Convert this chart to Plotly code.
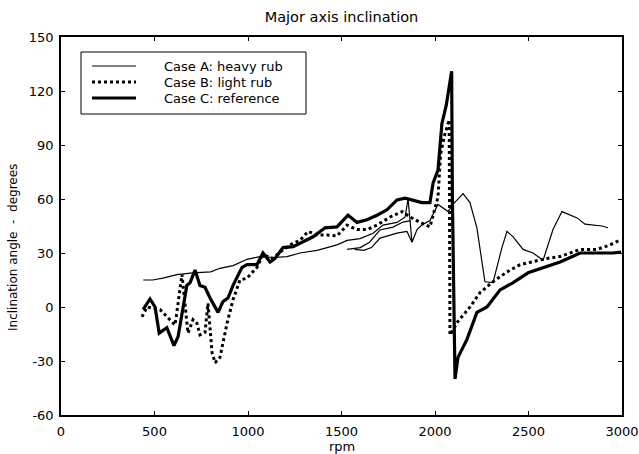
import plotly.graph_objects as go

# Case A: heavy rub (thin solid) - main sweep plus two short sweeps (None separates)
rpm_a = [440, 490, 545, 620, 705, 800, 850, 920, 995, 1064, 1134, 1209, 1278, 1369, 1423, 1476,
         1530, 1599, 1669, 1722, 1797, 1840, 1856, 1877, 1904, 1930, 1973, 2016, 2070, 2096,
         2150, 2187, 2224, 2267, 2310, 2358, 2385, 2418, 2471, 2524, 2578, 2631, 2679, 2760,
         2802, 2867, 2893, 2925,
         None,
         1530, 1600, 1650, 1706, 1776, 1829, 1870,
         None,
         1570, 1620, 1660, 1706, 1797, 1850, 1877]
deg_a = [15, 15, 16, 18, 19, 19.5, 21.5, 23, 26.5, 28, 27.5, 28, 30, 31.5, 33, 34.5,
         37, 38, 41, 45.5, 47, 50, 60, 36, 43, 45.5, 48, 57, 53, 57,
         63, 58, 44, 14, 13.5, 33, 42, 39, 32, 30, 26, 43, 53, 49.5,
         46, 45.5, 45, 44,
         None,
         32, 33, 36, 42.8, 44.4, 47.2, 48,
         None,
         32, 31.5, 33, 38.3, 41, 42, 36]

# Case B: light rub (dotted)
rpm_b = [433, 460, 530, 566, 610, 647, 679, 706, 727, 743, 770, 786, 808, 824, 850, 888, 920,
         957, 995, 1021, 1048, 1080, 1134, 1171, 1241, 1278, 1321, 1369, 1423, 1476, 1530, 1583,
         1636, 1690, 1760, 1824, 1867, 1920, 1973, 2016, 2030, 2050, 2070, 2076, 2080, 2123,
         2187, 2241, 2310, 2385, 2455, 2524, 2599, 2669, 2776, 2867, 2936, 2995]
deg_b = [-5.5, 0, -1.5, -5.5, -10, 18, -14.5, -7, -9, -15.5, -14, 2, -25.5, -31, -28, -9, 4,
         15, 16, 19, 22, 29, 27, 30.5, 35.5, 37, 42, 40, 40, 39.5, 45.5, 43,
         43, 45.5, 50, 53, 50, 47, 44.5, 61, 85, 95, 103, 104, -15.5, -8,
         0, 8, 14, 19.5, 23.5, 25, 27, 28, 32, 32, 34.5, 37.5]

# Case C: reference (thick solid)
rpm_c = [439, 476, 503, 525, 566, 604, 626, 673, 690, 717, 743, 770, 797, 840, 866, 893, 920,
         968, 995, 1048, 1080, 1118, 1145, 1187, 1241, 1294, 1348, 1412, 1476, 1535, 1583, 1636,
         1690, 1743, 1797, 1840, 1883, 1930, 1973, 1990, 2016, 2037, 2060, 2089, 2093, 2107,
         2123, 2171, 2224, 2278, 2348, 2418, 2498, 2578, 2669, 2776, 2867, 2952, 2995]
deg_c = [-1.5, 4.5, 0, -14.5, -11.5, -21.5, -16.5, 12, 13.5, 20.5, 12, 11, 5, -3, 3, 5, 12,
         22, 23.5, 23.5, 30, 25, 27, 33, 33.5, 36, 39, 44, 44.5, 51, 47, 48.5,
         51, 54, 59.5, 60.5, 59.5, 58, 58, 69, 76, 102, 112, 131, 60, -40,
         -28, -18, -3, 0, 9.5, 13.5, 19, 22, 25, 30, 30, 30, 30.5]

x_ticks = [0, 500, 1000, 1500, 2000, 2500, 3000]
y_ticks = [-60, -30, 0, 30, 60, 90, 120, 150]
legend_names = ["Case A: heavy rub", "Case B: light rub", "Case C: reference"]

FONT = "DejaVu Sans, Arial, sans-serif"
line_styles = [dict(color="black", width=1.2),
               dict(color="black", width=3, dash="dot"),
               dict(color="black", width=3.2)]

fig = go.Figure()
for xs, ys, nm, st in zip([rpm_a, rpm_b, rpm_c], [deg_a, deg_b, deg_c], legend_names, line_styles):
    fig.add_trace(go.Scatter(x=xs, y=ys, mode="lines", name=nm, line=st,
                             connectgaps=False, showlegend=False))

# Manual legend (box, sample lines, labels) in paper coordinates
W, H, L, T = 561.0, 378.0, 61.0, 37.0
def px(x):
    return (x - L) / W
def py(y):
    return (T + H - y) / H

shapes = [dict(type="rect", xref="paper", yref="paper", x0=px(81), x1=px(306), y0=py(114), y1=py(52),
               line=dict(color="black", width=1), fillcolor="white", layer="above")]
annotations = []
rows = [66, 82, 98]
for r, nm, st in zip(rows, legend_names, line_styles):
    shapes.append(dict(type="line", xref="paper", yref="paper", x0=px(92), x1=px(136),
                       y0=py(r), y1=py(r), line=st, layer="above"))
    annotations.append(dict(text=nm, xref="paper", yref="paper", x=px(162), y=py(r),
                            xanchor="left", yanchor="middle", showarrow=False,
                            font=dict(family=FONT, size=13, color="black")))

# axis titles
annotations.append(dict(text="rpm", xref="paper", yref="paper", x=0.5, y=py(446),
                        xanchor="center", yanchor="middle", showarrow=False,
                        font=dict(family=FONT, size=13, color="black")))
annotations.append(dict(text="Inclination angle  -  degrees", xref="paper", yref="paper",
                        x=px(13), y=py(248), xanchor="center", yanchor="middle", textangle=-90,
                        showarrow=False, font=dict(family=FONT, size=12, color="black")))

fig.update_layout(
    width=639, height=454,
    margin=dict(l=61, r=17, t=37, b=39, autoexpand=False),
    paper_bgcolor="white", plot_bgcolor="white",
    font=dict(family=FONT, size=13, color="black"),
    title=dict(text="Major axis inclination", x=0.5, xanchor="center", xref="paper",
               y=1 - 17 / 454, yanchor="middle", font=dict(size=14.5, color="black")),
    showlegend=False,
    shapes=shapes,
    annotations=annotations,
)
fig.update_xaxes(range=[0, 3000], tickvals=x_ticks, ticktext=[str(v) for v in x_ticks],
                 showgrid=False, zeroline=False, showline=True, linecolor="black", linewidth=1.5,
                 mirror="ticks", ticks="inside", ticklen=4, tickcolor="black", automargin=False,
                 tickfont=dict(size=13), ticklabelstandoff=4)
fig.update_yaxes(range=[-60, 150], tickvals=y_ticks, ticktext=[str(v) for v in y_ticks],
                 showgrid=False, zeroline=False, showline=True, linecolor="black", linewidth=1.5,
                 mirror="ticks", ticks="inside", ticklen=4, tickcolor="black", automargin=False,
                 tickfont=dict(size=13), ticklabelstandoff=3)

fig.write_html("out.html")
